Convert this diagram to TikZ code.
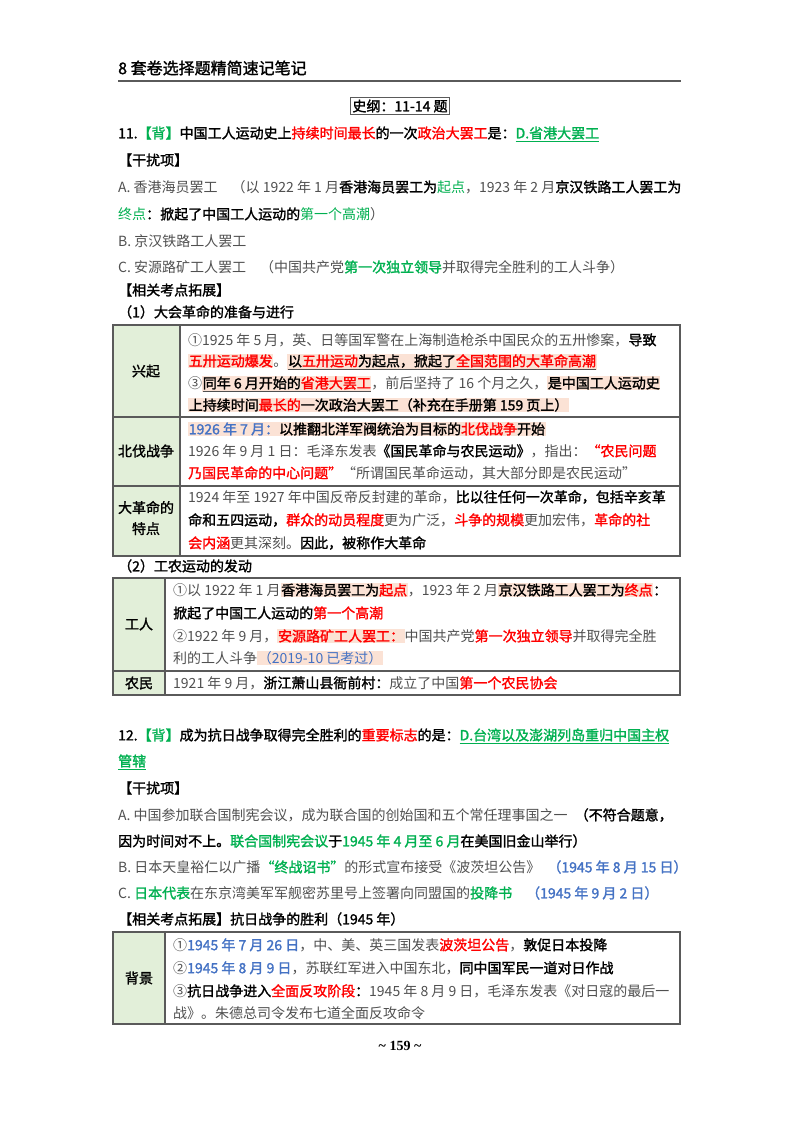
\documentclass[tikz,border=0pt]{standalone}
\usepackage{fontspec}
\setmainfont{Noto Sans CJK SC}[AutoFakeBold=1.6]
\newfontfamily\serifnum{Liberation Serif}
\definecolor{txt}{HTML}{505050}
\definecolor{xred}{HTML}{FF0000}
\definecolor{xgrn}{HTML}{00B050}
\definecolor{xblu}{HTML}{4472C4}
\definecolor{hlc}{HTML}{FBE2D5}
\definecolor{cellg}{HTML}{E2EFD9}
\definecolor{rulec}{HTML}{5A5A5A}
\newcommand{\xk}[1]{{\bfseries\color{black}#1}}
\newcommand{\xr}[1]{{\bfseries\color{xred}#1}}
\newcommand{\xg}[1]{{\bfseries\color{xgrn}#1}}
\newcommand{\xb}[1]{{\color{xblu}#1}}
\newcommand{\xu}[1]{\underline{#1}}
\newcommand{\xh}[1]{{\setlength\fboxsep{0.6pt}\colorbox{hlc}{#1}}}
\newcommand{\fs}{\fontsize{14}{16}\selectfont}
\tikzset{
 ln/.style={anchor=west,inner sep=0pt,font=\fs,text=txt},
 lab/.style={inner sep=0pt,font=\fs\bfseries,text=black,align=center},
 cell/.style={draw=rulec,line width=1.2pt},
}
\begin{document}
\begin{tikzpicture}[x=1pt,y=-1pt]
\useasboundingbox[fill=white] (0,0) rectangle (800,1132);
% header
\node[anchor=west,inner sep=0pt,font=\fontsize{16}{18}\selectfont\bfseries] (hdr) at (118,68) {8 套卷选择题精简速记笔记};
\draw[rulec,line width=1.6pt] (118,81) -- (681,81);
\node[draw=rulec,line width=0.8pt,inner sep=2pt,font=\fs\bfseries] (ttl) at (400,106) {史纲：11-14 题};
% Q11
\node[ln] (q11) at (118,134) {\xk{11.}\xg{【背】}\xk{中国工人运动史上}\xr{持续时间最长}\xk{的一次}\xr{政治大罢工}\xk{是：}\xg{\xu{D.省港大罢工}}};
\node[ln] (g1) at (118,160) {\xk{【干扰项】}};
\node[ln] (a1) at (118,187) {A. 香港海员罢工\quad （以 1922 年 1 月\xk{香港海员罢工为}{\color{xgrn}起点}，1923 年 2 月\xk{京汉铁路工人罢工为}};
\node[ln] (a2) at (118,214) {{\color{xgrn}终点}\xk{：掀起了中国工人运动的}{\color{xgrn}第一个高潮}）};
\node[ln] (b1) at (118,241) {B. 京汉铁路工人罢工};
\node[ln] (c1) at (118,267) {C. 安源路矿工人罢工\quad （中国共产党\xg{第一次独立领导}并取得完全胜利的工人斗争）};
\node[ln] (e1) at (118,290) {\xk{【相关考点拓展】}};
\node[ln] (s1) at (118,312) {\xk{（1）大会革命的准备与进行}};
% table 1
\fill[cellg] (113,325) rectangle (180,556);
\draw[cell] (113,325) rectangle (680,556);
\draw[cell] (180,325) -- (180,556);
\draw[cell] (113,417) -- (680,417);
\draw[cell] (113,486) -- (680,486);
\node[lab] (l1) at (146,371) {兴起};
\node[lab] (l2) at (146,451) {北伐战争};
\node[lab] (l3) at (146,518) {大革命的\\[5pt]特点};
\node[ln] (r11) at (188,340) {①1925 年 5 月，英、日等国军警在上海制造枪杀中国民众的五卅惨案，\xk{导致}};
\node[ln] (r12) at (188,362) {\xh{\xr{五卅运动爆发}}。\xh{\xu{\xk{以}\xr{五卅运动}\xk{为起点，掀起了}\xr{全国范围的大革命高潮}}}};
\node[ln] (r13) at (188,384) {③\xh{\xu{\xk{同年 6 月开始的}\xr{省港大罢工}}}，前后坚持了 16 个月之久，\xh{\xk{是中国工人运动史}}};
\node[ln] (r14) at (188,405) {\xh{\xk{上持续时间}\xr{最长的}\xk{一次政治大罢工（补充在手册第 159 页上）}}};
\node[ln] (r21) at (188,429) {\xh{\xb{\bfseries 1926 年 7 月：}\xk{以推翻北洋军阀统治为目标的}\xr{北伐战争}\xk{开始}}};
\node[ln] (r22) at (188,451) {1926 年 9 月 1 日：毛泽东发表\xk{《国民革命与农民运动》}，指出：\xr{“农民问题}};
\node[ln] (r23) at (188,473) {\xr{乃国民革命的中心问题”}“所谓国民革命运动，其大部分即是农民运动”};
\node[ln] (r31) at (188,497) {1924 年至 1927 年中国反帝反封建的革命，\xk{比以往任何一次革命，包括辛亥革}};
\node[ln] (r32) at (188,520) {\xk{命和五四运动，}\xr{群众的动员程度}更为广泛，\xr{斗争的规模}更加宏伟，\xr{革命的社}};
\node[ln] (r33) at (188,543) {\xr{会内涵}更其深刻。\xk{因此，被称作大革命}};
\node[ln] (s2) at (118,566) {\xk{（2）工农运动的发动}};
% table 2
\fill[cellg] (113,578) rectangle (165,695);
\draw[cell] (113,578) rectangle (680,695);
\draw[cell] (165,578) -- (165,695);
\draw[cell] (113,671) -- (680,671);
\node[lab] (l4) at (139,624) {工人};
\node[lab] (l5) at (139,683) {农民};
\node[ln] (w1) at (173,590) {①以 1922 年 1 月\xh{\xk{香港海员罢工为}\xr{起点}}，1923 年 2 月\xh{\xk{京汉铁路工人罢工为}\xr{终点}}\xk{：}};
\node[ln] (w2) at (173,613) {\xk{掀起了中国工人运动的}\xr{第一个高潮}};
\node[ln] (w3) at (173,636) {②1922 年 9 月，\xh{\xr{安源路矿工人罢工：}}中国共产党\xr{第一次独立领导}并取得完全胜};
\node[ln] (w4) at (173,658) {利的工人斗争\xh{\xb{（2019-10 已考过）}}};
\node[ln] (n1) at (173,683) {1921 年 9 月，\xk{浙江萧山县衙前村：}成立了中国\xr{第一个农民协会}};
% Q12
\node[ln] (q12) at (118,736) {\xk{12.}\xg{【背】}\xk{成为抗日战争取得完全胜利的}\xr{重要标志}\xk{的是：}\xg{\xu{D.台湾以及澎湖列岛重归中国主权}}};
\node[ln] (q12b) at (118,762) {\xg{\xu{管辖}}};
\node[ln] (g2) at (118,788) {\xk{【干扰项】}};
\node[ln] (a3) at (118,815) {A. 中国参加联合国制宪会议，成为联合国的创始国和五个常任理事国之一\enspace\xk{（不符合题意，}};
\node[ln] (a4) at (118,841) {\xk{因为时间对不上。}\xg{联合国制宪会议}\xk{于}\xg{1945 年 4 月至 6 月}\xk{在美国旧金山举行）}};
\node[ln] (b2) at (118,867) {B. 日本天皇裕仁以广播\xg{“终战诏书”}的形式宣布接受《波茨坦公告》\enspace\xb{\bfseries（1945 年 8 月 15 日）}};
\node[ln] (c2) at (118,893) {C. \xg{日本代表}在东京湾美军军舰密苏里号上签署向同盟国的\xg{投降书}\quad\xb{\bfseries（1945 年 9 月 2 日）}};
\node[ln] (e2) at (118,919) {\xk{【相关考点拓展】抗日战争的胜利（1945 年）}};
% table 3
\fill[cellg] (113,932) rectangle (165,1024);
\draw[cell] (113,932) rectangle (680,1024);
\draw[cell] (165,932) -- (165,1024);
\node[lab] (l6) at (139,978) {背景};
\node[ln] (k1) at (173,945) {①\xb{\bfseries 1945 年 7 月 26 日}，中、美、英三国发表\xr{波茨坦公告}，\xk{敦促日本投降}};
\node[ln] (k2) at (173,968) {②\xb{\bfseries 1945 年 8 月 9 日}，苏联红军进入中国东北，\xk{同中国军民一道对日作战}};
\node[ln] (k3) at (173,991) {③\xk{抗日战争进入}\xr{全面反攻阶段}\xk{：}1945 年 8 月 9 日，毛泽东发表《对日寇的最后一};
\node[ln] (k4) at (173,1013) {战》。朱德总司令发布七道全面反攻命令};
\node[inner sep=0pt,font=\serifnum\fontsize{14}{16}\selectfont\bfseries] (pg) at (400,1046) {\textasciitilde\ 159 \textasciitilde};
\end{tikzpicture}
\end{document}
